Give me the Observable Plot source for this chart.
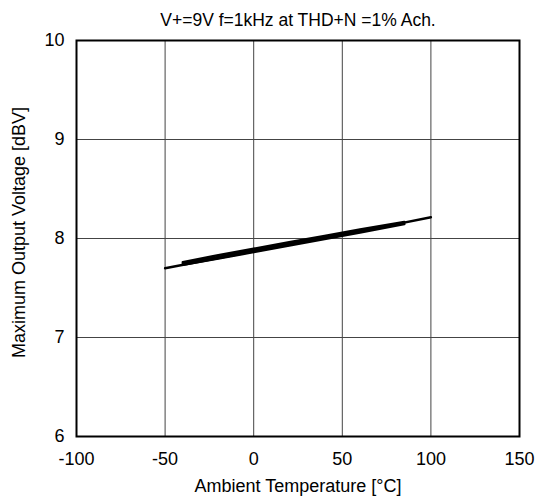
<!DOCTYPE html>
<html>
<head>
<meta charset="utf-8">
<script src="https://cdn.jsdelivr.net/npm/d3@7"></script>
<script src="https://cdn.jsdelivr.net/npm/@observablehq/plot@0.6"></script>
<style>
  body { margin: 0; background: #fff; }
  svg { font-family: "Liberation Sans", Arial, sans-serif; }
</style>
</head>
<body>
<div id="chart"></div>
<script>
const title = "V+=9V f=1kHz at THD+N =1% Ach.";
const xLabel = "Ambient Temperature [°C]";
const yLabel = "Maximum Output Voltage [dBV]";
const xTicks = [-100, -50, 0, 50, 100, 150];
const yTicks = [6, 7, 8, 9, 10];

// Curve 1 (full range)
const temp1 = [-50, -25, 0, 25, 50, 75, 100];
const volt1 = [7.70, 7.785, 7.87, 7.955, 8.04, 8.125, 8.215];
// Curves 2-4 (shorter range, overlapping band)
const temp2 = [-40, -20, 0, 20, 40, 60, 85];
const volt2 = [7.75, 7.815, 7.882, 7.947, 8.012, 8.077, 8.16];
const volt3 = [7.735, 7.798, 7.862, 7.928, 7.993, 8.06, 8.146];
const volt4 = [7.762, 7.832, 7.897, 7.962, 8.027, 8.091, 8.168];

const data = [
  ...temp1.map((t, i) => ({series: "1", t, v: volt1[i]})),
  ...temp2.map((t, i) => ({series: "2", t, v: volt2[i]})),
  ...temp2.map((t, i) => ({series: "3", t, v: volt3[i]})),
  ...temp2.map((t, i) => ({series: "4", t, v: volt4[i]}))
];

const fmt = d => String(d);

const chart = Plot.plot({
  width: 536,
  height: 501,
  marginLeft: 76,
  marginRight: 17,
  marginTop: 40,
  marginBottom: 65,
  style: {fontFamily: "'Liberation Sans', Arial, sans-serif", fontSize: "18px", color: "#000", background: "#fff"},
  x: {domain: [-100, 150], ticks: xTicks, tickSize: 0, tickPadding: 16, tickFormat: fmt, label: null},
  y: {domain: [6, 10], ticks: yTicks, tickSize: 0, tickPadding: 12, tickFormat: fmt, label: null},
  marks: [
    Plot.gridX(xTicks, {stroke: "#444", strokeOpacity: 1, strokeWidth: 1}),
    Plot.gridY(yTicks, {stroke: "#444", strokeOpacity: 1, strokeWidth: 1}),
    Plot.line(data, {x: "t", y: "v", z: "series", stroke: "#000", strokeWidth: 2.4}),
    Plot.frame({stroke: "#000", strokeWidth: 2}),
    Plot.axisX({ticks: xTicks, tickSize: 0, tickPadding: 16, tickFormat: fmt, fontSize: 18}),
    Plot.axisY({ticks: yTicks, tickSize: 0, tickPadding: 12, tickFormat: fmt, fontSize: 18}),
    Plot.text([title], {frameAnchor: "top", dy: -27, fontSize: 17.5}),
    Plot.text([xLabel], {frameAnchor: "bottom", dy: 55, fontSize: 18}),
    Plot.text([yLabel], {frameAnchor: "left", dx: -57, dy: -6, rotate: -90, textAnchor: "middle", fontSize: 18})
  ]
});
document.getElementById("chart").appendChild(chart);
</script>
</body>
</html>
